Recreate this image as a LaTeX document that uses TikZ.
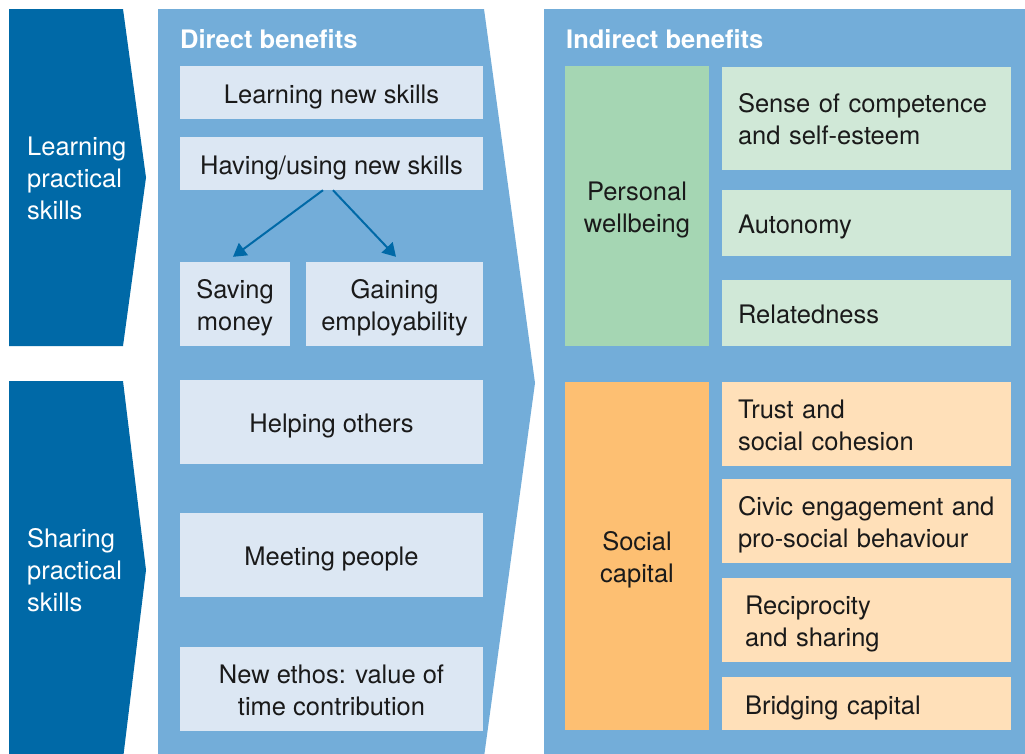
\documentclass[tikz,border=0pt]{standalone}
\usepackage{fontspec}
\setmainfont{TeX Gyre Heros}
\usetikzlibrary{arrows.meta}
\definecolor{dblue}{HTML}{0069A7}
\definecolor{mblue}{HTML}{73ADD9}
\definecolor{lbox}{HTML}{DCE7F3}
\definecolor{gdark}{HTML}{A5D6B3}
\definecolor{glight}{HTML}{D0E8D7}
\definecolor{odark}{HTML}{FDBF72}
\definecolor{olight}{HTML}{FFE0B9}
\definecolor{ink}{HTML}{1A1A1A}
\tikzset{
  dbox/.style={fill=lbox, text=ink, inner sep=0pt, align=center},
  onel/.style={text height=21pt, text depth=0pt},
  twol/.style={text height=21pt, text depth=33pt},
  twoc/.style={text height=53pt, text depth=1pt},
  rbox/.style={text=ink, inner xsep=16pt, inner ysep=0pt, text width=257pt, align=left},
  rboxb/.style={text=ink, inner xsep=23pt, inner ysep=0pt, text width=243pt, align=left},
  catbox/.style={text=ink, inner sep=0pt, align=center, minimum width=144pt},
  wtxt/.style={text=white, inner sep=0pt, align=left},
  ttl/.style={text=white, inner sep=0pt, font=\fontsize{25.5}{32}\selectfont\bfseries},
  arr/.style={draw=dblue, line width=2pt, -{Triangle[length=13pt,width=15pt]}}
}
\begin{document}
\begin{tikzpicture}[x=1pt,y=-1pt, font=\fontsize{25.5}{32}\selectfont]
\useasboundingbox (0,0) rectangle (1025,753);
\fill[white] (0,0) rectangle (1025,753);
% left arrows
\fill[dblue] (9,9) -- (123,9) -- (146,177.5) -- (123,346) -- (9,346) -- cycle;
\fill[dblue] (9,381) -- (123,381) -- (146,570) -- (123,759) -- (9,759) -- cycle;
% middle panel
\fill[mblue] (158,9) -- (484,9) -- (535,383) -- (484,757) -- (158,757) -- cycle;
% right panel
\fill[mblue] (544,9) rectangle (1030,760);

\node[wtxt, anchor=west] (lps) at (27,178.5) {Learning\\practical\\skills};
\node[wtxt, anchor=west] (sps) at (27,570) {Sharing\\practical\\skills};

\node[ttl, anchor=base west] (dir) at (180,48) {Direct benefits};
\node[ttl, anchor=base west] (ind) at (566,48) {Indirect benefits};

% direct benefits
\node[dbox, onel, minimum width=303pt, minimum height=53pt] (learn) at (331.5,92.5) {Learning new skills};
\node[dbox, onel, minimum width=303pt, minimum height=53pt] (have) at (331.5,163.5) {Having/using new skills};
\node[dbox, twoc, minimum width=110pt, minimum height=84pt] (save) at (235,304) {Saving\\money};
\node[dbox, twoc, minimum width=177pt, minimum height=84pt] (gain) at (394.5,304) {Gaining\\employability};
\node[dbox, onel, minimum width=303pt, minimum height=84pt] (help) at (331.5,422) {Helping others};
\node[dbox, onel, minimum width=303pt, minimum height=84pt] (meet) at (331.5,555) {Meeting people};
\node[dbox, twoc, minimum width=303pt, minimum height=84pt] (ethos) at (331.5,689) {New ethos: value of\\time contribution};

\draw[arr] ([xshift=-8.5pt]have.south) -- ([xshift=-2pt,yshift=5pt]save.north);
\draw[arr] ([xshift=1.5pt]have.south) -- ([xshift=1.5pt,yshift=5pt]gain.north);

% indirect benefits
\node[catbox, twoc, fill=gdark, minimum height=280pt] (pw) at (637,206) {Personal\\wellbeing};
\node[catbox, twoc, fill=odark, minimum height=348pt] (sc) at (637,556) {Social\\capital};

\node[rbox, twol, fill=glight, minimum height=103pt] (comp) at (866.5,118.5) {Sense of competence\\and self-esteem};
\node[rbox, onel, fill=glight, minimum height=66pt] (auto) at (866.5,223) {Autonomy};
\node[rbox, onel, fill=glight, minimum height=66pt] (rel) at (866.5,313) {Relatedness};

\node[rbox, twol, fill=olight, minimum height=84pt] (trust) at (866.5,424) {Trust and\\social cohesion};
\node[rbox, twol, fill=olight, minimum height=84pt] (civic) at (866.5,521) {Civic engagement and\\pro-social behaviour};
\node[rboxb, twol, fill=olight, minimum height=84pt] (recip) at (866.5,620) {Reciprocity\\and sharing};
\node[rboxb, onel, fill=olight, minimum height=53pt] (bridge) at (866.5,703.5) {Bridging capital};
\end{tikzpicture}
\end{document}
